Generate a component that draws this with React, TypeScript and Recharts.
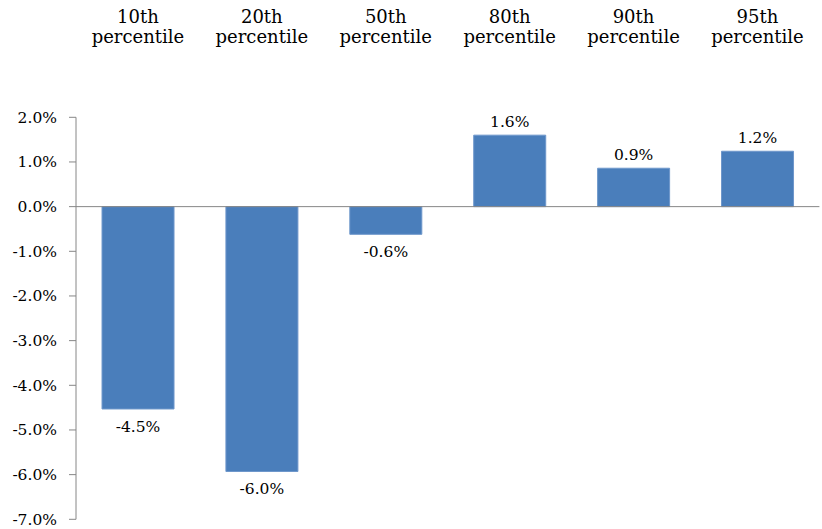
import React from 'react';
import { BarChart, Bar, XAxis, YAxis, ReferenceLine, LabelList } from 'recharts';

const categoriesTop = ['10th', '20th', '50th', '80th', '90th', '95th'];
const categoriesBottom = ['percentile', 'percentile', 'percentile', 'percentile', 'percentile', 'percentile'];
const values = [-4.53, -5.93, -0.62, 1.6, 0.86, 1.24];
const valueLabels = ['-4.5%', '-6.0%', '-0.6%', '1.6%', '0.9%', '1.2%'];
const yTicks = [-7, -6, -5, -4, -3, -2, -1, 0, 1, 2];

const data = categoriesTop.map((c, i) => ({
  name: c,
  sub: categoriesBottom[i],
  value: values[i],
  label: valueLabels[i],
}));

const FONT = '"DejaVu Serif", serif';

const CatTick = (props: any) => {
  const { x, y, payload, index } = props;
  const d = data[index] || data.find((e) => e.name === payload.value);
  return (
    <g>
      <text x={x} y={y - 86} textAnchor="middle" fontFamily={FONT} fontSize={18} fill="#000">
        {payload.value}
      </text>
      <text x={x} y={y - 66.8} textAnchor="middle" fontFamily={FONT} fontSize={18} fill="#000">
        {d ? d.sub : 'percentile'}
      </text>
    </g>
  );
};

const ValueLabel = (props: any) => {
  const { x, y, width, height, value } = props;
  const top = Math.min(y, y + height);
  const bottom = Math.max(y, y + height);
  const neg = String(value).startsWith('-');
  const ty = neg ? bottom + 22.7 : top - 8;
  return (
    <text x={x + width / 2} y={ty} textAnchor="middle" fontFamily={FONT} fontSize={15.5} fill="#000">
      {value}
    </text>
  );
};

export default function App() {
  return (
    <div style={{ position: 'absolute', left: 0, top: 0, width: 822, height: 529, background: '#fff' }}>
      <BarChart
        width={822}
        height={529}
        data={data}
        margin={{ top: 0, right: 2.6, bottom: 9.7, left: 0 }}
        barCategoryGap="21%"
        style={{ fontFamily: FONT }}
      >
        <XAxis
          dataKey="name"
          orientation="top"
          height={117.3}
          axisLine={false}
          tickLine={false}
          interval={0}
          tick={<CatTick />}
        />
        <YAxis
          domain={[-7, 2]}
          ticks={yTicks}
          interval={0}
          width={76}
          tickSize={7}
          tickMargin={12}
          axisLine={{ stroke: '#868686' }}
          tickLine={{ stroke: '#868686' }}
          tick={{ fontFamily: FONT, fontSize: 15.5, fill: '#000' }}
          tickFormatter={(v: number) => v.toFixed(1) + '%'}
        />
        <ReferenceLine y={0} stroke="#868686" strokeWidth={1} />
        <Bar dataKey="value" fill="#4A7EBB" stroke="#6E97CB" strokeWidth={1} isAnimationActive={false}>
          <LabelList dataKey="label" content={<ValueLabel />} />
        </Bar>
      </BarChart>
    </div>
  );
}
